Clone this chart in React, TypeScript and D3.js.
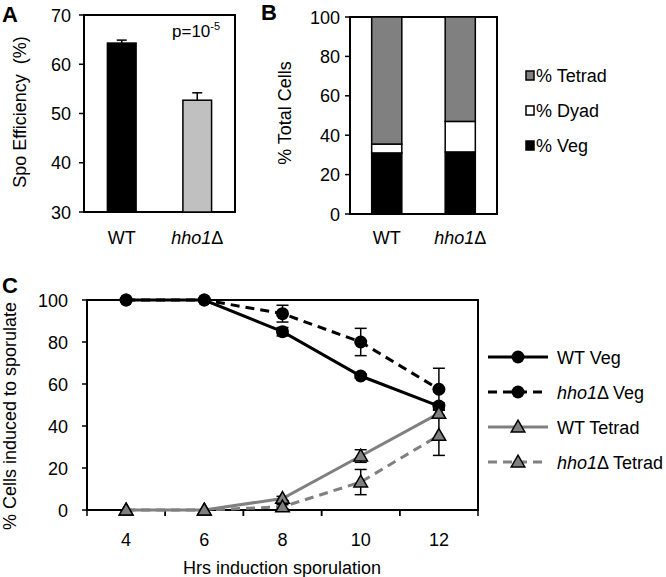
import React from "react";
import * as d3 from "d3";

// Panel A
const aCategories = ["WT", "hho1Δ"];
const aValues = [64.3, 52.7];
const aErrors = [0.6, 1.5];
const aTicks = [30, 40, 50, 60, 70];

// Panel B
const bCategories = ["WT", "hho1Δ"];
const bVeg = [31, 31.5];
const bDyad = [4.5, 15.5];
const bTetrad = [64.5, 53];
const bTicks = [0, 20, 40, 60, 80, 100];
const bLegend = ["% Tetrad", "% Dyad", "% Veg"];

// Panel C
const cHours = ["4", "6", "8", "10", "12"];
const wtVeg = [100, 100, 84.9, 63.8, 49.5];
const wtVegErr = [0, 0, 2, 1, 1.5];
const hhoVeg = [100, 100, 93.5, 80, 57.5];
const hhoVegErr = [0, 0, 4, 6.5, 10];
const wtTetrad = [0, 0, 5.5, 25.7, 46];
const wtTetradErr = [0, 0, 1, 3, 1.5];
const hhoTetrad = [0, 0, 1.5, 13.3, 35.5];
const hhoTetradErr = [0, 0, 1, 6, 9.5];
const cTicks = [0, 20, 40, 60, 80, 100];

const FONT = "'Liberation Sans', Arial, sans-serif";
const GRAY = "#808080";

function Geno({ name }: { name: string }) {
  if (name.startsWith("hho1")) {
    return (
      <>
        <tspan fontStyle="italic">hho1</tspan>
        <tspan>Δ</tspan>
      </>
    );
  }
  return <tspan>{name}</tspan>;
}

function PanelA() {
  const x = d3.scaleBand().domain(aCategories).range([84, 235]).paddingInner(0.62).paddingOuter(0.31);
  const y = d3.scaleLinear().domain([30, 70]).range([212, 15]);
  const fills = ["#000000", "#c0c0c0"];
  return (
    <g>
      <text x={2} y={22} fontSize={22} fontWeight="bold" fontFamily={FONT}>A</text>
      <rect x={84} y={15} width={151} height={197} fill="none" stroke="#000" strokeWidth={2} />
      {aCategories.map((c, i) => {
        const bx = x(c)!;
        const cx = bx + x.bandwidth() / 2;
        return (
          <g key={c}>
            <line x1={cx} x2={cx} y1={y(aValues[i])} y2={y(aValues[i] + aErrors[i])} stroke="#000" strokeWidth={1.5} />
            <line x1={cx - 5} x2={cx + 5} y1={y(aValues[i] + aErrors[i])} y2={y(aValues[i] + aErrors[i])} stroke="#000" strokeWidth={1.5} />
            <rect x={bx} y={y(aValues[i])} width={x.bandwidth()} height={y(30) - y(aValues[i])} fill={fills[i]} stroke="#000" strokeWidth={1.5} />
            <text x={cx} y={244} textAnchor="middle" fontSize={18} fontFamily={FONT}><Geno name={c} /></text>
          </g>
        );
      })}
      {aTicks.map((t) => (
        <g key={t}>
          <line x1={79} x2={84} y1={y(t)} y2={y(t)} stroke="#000" strokeWidth={1.5} />
          <text x={71} y={y(t) + 6.5} textAnchor="end" fontSize={18} fontFamily={FONT}>{t}</text>
        </g>
      ))}
      <text transform="translate(26,112) rotate(-90)" textAnchor="middle" fontSize={18} fontFamily={FONT} xmlSpace="preserve">Spo Efficiency  (%)</text>
      <text x={172} y={37} fontSize={17} fontFamily={FONT}>
        p=10<tspan fontSize={11} dy={-7}>-5</tspan>
      </text>
    </g>
  );
}

function PanelB() {
  const x = d3.scaleBand().domain(bCategories).range([350, 497]).paddingInner(0.59).paddingOuter(0.295);
  const y = d3.scaleLinear().domain([0, 100]).range([214, 17]);
  const fills = ["#000", "#fff", GRAY];
  const stackData = bCategories.map((c, i) => ({ c, veg: bVeg[i], dyad: bDyad[i], tetrad: bTetrad[i] }));
  const stack = d3.stack<any>().keys(["veg", "dyad", "tetrad"])(stackData);
  const legendFill: Record<string, string> = { "% Tetrad": GRAY, "% Dyad": "#fff", "% Veg": "#000" };
  return (
    <g>
      <text x={261} y={20} fontSize={22} fontWeight="bold" fontFamily={FONT}>B</text>
      <rect x={350} y={17} width={147} height={197} fill="none" stroke="#000" strokeWidth={2} />
      {stack.map((layer, li) => (
        <g key={layer.key}>
          {layer.map((d, i) => (
            <rect key={i} x={x(bCategories[i])!} y={y(Math.min(d[1], 100))} width={x.bandwidth()} height={y(d[0]) - y(Math.min(d[1], 100))} fill={fills[li]} stroke="#000" strokeWidth={1.5} />
          ))}
        </g>
      ))}
      {bCategories.map((c) => (
        <text key={c} x={x(c)! + x.bandwidth() / 2} y={244} textAnchor="middle" fontSize={18} fontFamily={FONT}><Geno name={c} /></text>
      ))}
      {bTicks.map((t) => (
        <g key={t}>
          <line x1={345} x2={350} y1={y(t)} y2={y(t)} stroke="#000" strokeWidth={1.5} />
          <text x={340} y={y(t) + 6.5} textAnchor="end" fontSize={18} fontFamily={FONT}>{t}</text>
        </g>
      ))}
      <text transform="translate(291,113) rotate(-90)" textAnchor="middle" fontSize={18} fontFamily={FONT}>% Total Cells</text>
      {bLegend.map((n, i) => (
        <g key={n}>
          <rect x={526} y={71 + i * 35} width={8} height={9} fill={legendFill[n]} stroke="#000" strokeWidth={1.5} />
          <text x={536} y={82 + i * 35} fontSize={18} fontFamily={FONT}>{n}</text>
        </g>
      ))}
    </g>
  );
}

function PanelC() {
  const xb = d3.scaleBand().domain(cHours).range([87, 478]).padding(0);
  const x = (h: string) => xb(h)! + xb.bandwidth() / 2;
  const y = d3.scaleLinear().domain([0, 100]).range([510, 300]);
  const line = d3.line<number>().x((_, i) => x(cHours[i])).y((d) => y(d));
  const tri = d3.symbol().type(d3.symbolTriangle).size(80)()!;
  const series = [
    { name: "WT Veg", vals: wtVeg, err: wtVegErr, color: "#000", dash: undefined, marker: "circle" },
    { name: "hho1Δ Veg", vals: hhoVeg, err: hhoVegErr, color: "#000", dash: "9,6", marker: "circle" },
    { name: "WT Tetrad", vals: wtTetrad, err: wtTetradErr, color: GRAY, dash: undefined, marker: "tri" },
    { name: "hho1Δ Tetrad", vals: hhoTetrad, err: hhoTetradErr, color: GRAY, dash: "9,6", marker: "tri" },
  ];
  const drawMarker = (m: string, cx: number, cy: number, key: any) =>
    m === "circle" ? (
      <circle key={key} cx={cx} cy={cy} r={6.5} fill="#000" />
    ) : (
      <path key={key} d={tri} transform={`translate(${cx},${cy + 1})`} fill={GRAY} stroke="#000" strokeWidth={1.5} />
    );
  return (
    <g>
      <text x={2} y={293} fontSize={22} fontWeight="bold" fontFamily={FONT}>C</text>
      <rect x={87} y={300} width={391} height={210} fill="none" stroke="#000" strokeWidth={2} />
      {cTicks.map((t) => (
        <g key={t}>
          <line x1={82} x2={87} y1={y(t)} y2={y(t)} stroke="#000" strokeWidth={1.5} />
          <text x={68} y={y(t) + 6.5} textAnchor="end" fontSize={18} fontFamily={FONT}>{t}</text>
        </g>
      ))}
      {cHours.map((h) => (
        <g key={h}>
          <line x1={xb(h)! + xb.bandwidth()} x2={xb(h)! + xb.bandwidth()} y1={510} y2={516} stroke="#000" strokeWidth={1.5} />
          <line x1={xb(h)!} x2={xb(h)!} y1={510} y2={516} stroke="#000" strokeWidth={1.5} />
          <text x={x(h)} y={546} textAnchor="middle" fontSize={18} fontFamily={FONT}>{h}</text>
        </g>
      ))}
      <text x={282} y={574} textAnchor="middle" fontSize={18} fontFamily={FONT}>Hrs induction sporulation</text>
      <text transform="translate(16,416) rotate(-90)" textAnchor="middle" fontSize={18} fontFamily={FONT}>% Cells induced to sporulate</text>
      {series.map((s) => (
        <g key={s.name + "err"}>
          {s.vals.map((v, i) =>
            s.err[i] > 0 ? (
              <g key={i}>
                <line x1={x(cHours[i])} x2={x(cHours[i])} y1={y(v - s.err[i])} y2={y(v + s.err[i])} stroke="#000" strokeWidth={1.5} />
                <line x1={x(cHours[i]) - 6} x2={x(cHours[i]) + 6} y1={y(v - s.err[i])} y2={y(v - s.err[i])} stroke="#000" strokeWidth={1.5} />
                <line x1={x(cHours[i]) - 6} x2={x(cHours[i]) + 6} y1={y(v + s.err[i])} y2={y(v + s.err[i])} stroke="#000" strokeWidth={1.5} />
              </g>
            ) : null
          )}
        </g>
      ))}
      {series.map((s) => (
        <path key={s.name} d={line(s.vals)!} fill="none" stroke={s.color} strokeWidth={3} strokeDasharray={s.dash} />
      ))}
      {series.map((s) => (
        <g key={s.name + "m"}>{s.vals.map((v, i) => drawMarker(s.marker, x(cHours[i]), y(v), i))}</g>
      ))}
      {series.map((s, i) => {
        const ly = 357 + i * 35;
        const parts = s.name.split(" ");
        return (
          <g key={s.name + "leg"}>
            <line x1={488} x2={548} y1={ly} y2={ly} stroke={s.color} strokeWidth={3} strokeDasharray={s.dash} />
            {drawMarker(s.marker, 518, ly, "lm")}
            <text x={557} y={ly + 6.5} fontSize={18} fontFamily={FONT}>
              <Geno name={parts[0]} /> {parts[1]}
            </text>
          </g>
        );
      })}
    </g>
  );
}

export default function App() {
  return (
    <svg width={666} height={577} style={{ position: "absolute", left: 0, top: 0, background: "#fff" }}>
      <rect width={666} height={577} fill="#fff" />
      <PanelA />
      <PanelB />
      <PanelC />
    </svg>
  );
}
